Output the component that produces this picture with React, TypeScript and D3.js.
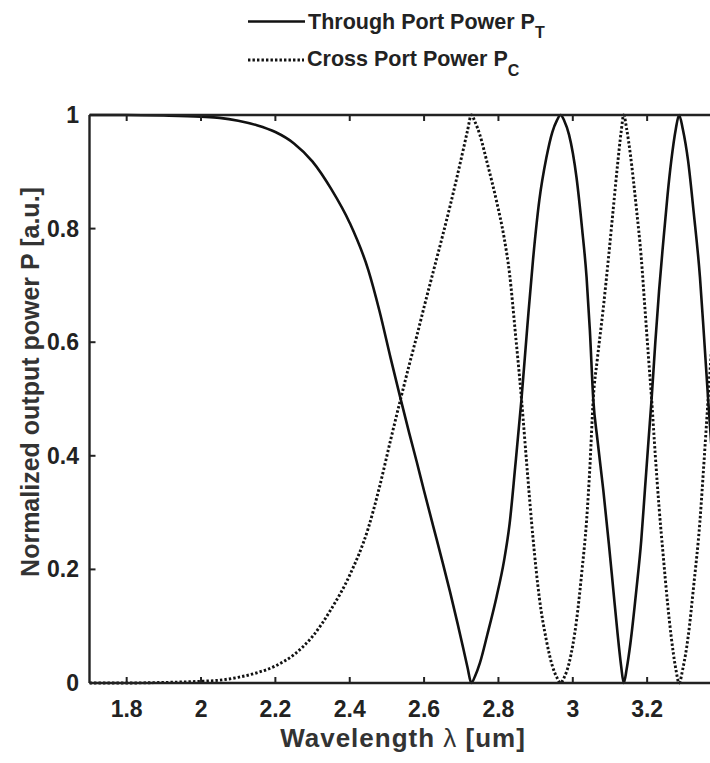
import React from "react";
import * as d3 from "d3";

const wavelength = [1.70, 1.80, 1.90, 2.00, 2.05, 2.10, 2.15, 2.20, 2.25, 2.30, 2.35, 2.40, 2.45, 2.48, 2.51, 2.535,
  2.56, 2.58, 2.60, 2.625, 2.65, 2.67, 2.69, 2.705, 2.717, 2.727, 2.737, 2.75, 2.77, 2.795, 2.815, 2.83, 2.845, 2.862,
  2.878, 2.893, 2.91, 2.929, 2.945, 2.957, 2.967, 2.977, 2.99, 3.01, 3.025, 3.037, 3.046, 3.055,
  3.066, 3.082, 3.097, 3.109, 3.12, 3.13, 3.137, 3.145, 3.155, 3.171, 3.184, 3.194, 3.204, 3.212,
  3.222, 3.232, 3.243, 3.255, 3.265, 3.277, 3.286, 3.296, 3.31, 3.325, 3.342, 3.353, 3.364, 3.38, 3.40];

const throughPort = [1.000, 1.000, 0.999, 0.997, 0.995, 0.990, 0.982, 0.970, 0.950, 0.918, 0.870, 0.810, 0.727, 0.655, 0.572, 0.505,
  0.440, 0.390, 0.338, 0.275, 0.212, 0.160, 0.105, 0.062, 0.027, 0.000, 0.012, 0.035, 0.085, 0.152, 0.215, 0.280, 0.380, 0.500,
  0.630, 0.745, 0.850, 0.925, 0.970, 0.990, 1.000, 0.990, 0.965, 0.890, 0.800, 0.715, 0.620, 0.500,
  0.430, 0.340, 0.245, 0.164, 0.090, 0.030, 0.000, 0.025, 0.070, 0.164, 0.250, 0.340, 0.430, 0.500,
  0.600, 0.690, 0.774, 0.860, 0.920, 0.975, 1.000, 0.975, 0.920, 0.830, 0.715, 0.610, 0.500, 0.350, 0.170];

const crossPort = [0.000, 0.000, 0.001, 0.003, 0.005, 0.010, 0.018, 0.030, 0.050, 0.082, 0.130, 0.190, 0.273, 0.345, 0.428, 0.495,
  0.560, 0.610, 0.662, 0.725, 0.788, 0.840, 0.895, 0.938, 0.973, 1.000, 0.988, 0.965, 0.915, 0.848, 0.785, 0.720, 0.620, 0.500,
  0.370, 0.255, 0.150, 0.075, 0.030, 0.010, 0.000, 0.010, 0.035, 0.110, 0.200, 0.285, 0.380, 0.500,
  0.570, 0.660, 0.755, 0.836, 0.910, 0.970, 1.000, 0.975, 0.930, 0.836, 0.750, 0.660, 0.570, 0.500,
  0.400, 0.310, 0.226, 0.140, 0.080, 0.025, 0.000, 0.025, 0.080, 0.170, 0.285, 0.390, 0.500, 0.650, 0.830];

const xTicks = [1.8, 2.0, 2.2, 2.4, 2.6, 2.8, 3.0, 3.2];
const yTicks = [0, 0.2, 0.4, 0.6, 0.8, 1];

const FONT = "'Liberation Sans', Arial, Helvetica, sans-serif";

export default function App() {
  const W = 710, H = 763;
  const left = 89.5, right = 721.5, top = 115, bottom = 683;
  const x = d3.scaleLinear().domain([1.7, 3.4]).range([left, right]);
  const y = d3.scaleLinear().domain([0, 1]).range([bottom, top]);

  const line = d3.line<number>()
    .x((_, i) => x(wavelength[i]))
    .y((d) => y(d))
    .curve(d3.curveMonotoneX);

  const tickLen = 6;

  return (
    <svg width={W} height={H} style={{ position: "absolute", left: 0, top: 0, background: "#fff" }}
      fontFamily={FONT}>
      <rect x={0} y={0} width={W} height={H} fill="#fff" />
      <defs>
        <clipPath id="plotclip">
          <rect x={left} y={top - 2} width={right - left} height={bottom - top + 4} />
        </clipPath>
      </defs>

      {/* curves */}
      <g clipPath="url(#plotclip)">
        <path d={line(crossPort) || ""} fill="none" stroke="#111" strokeWidth={2.9}
          strokeDasharray="2.4 2.1" />
        <path d={line(throughPort) || ""} fill="none" stroke="#111" strokeWidth={2.6} />
      </g>

      {/* axes box */}
      <g stroke="#222" strokeWidth={2.4} fill="none">
        <line x1={left} y1={top} x2={right} y2={top} />
        <line x1={left} y1={bottom} x2={right} y2={bottom} />
        <line x1={left} y1={top} x2={left} y2={bottom} />
        <line x1={right} y1={top} x2={right} y2={bottom} />
      </g>

      {/* x ticks */}
      {xTicks.map((t) => (
        <g key={"x" + t}>
          <line x1={x(t)} x2={x(t)} y1={bottom} y2={bottom - tickLen} stroke="#222" strokeWidth={2} />
          <line x1={x(t)} x2={x(t)} y1={top} y2={top + tickLen} stroke="#222" strokeWidth={2} />
          <text x={x(t)} y={bottom + 34} textAnchor="middle" fontSize={23} fontWeight="bold" fill="#222">
            {d3.format("~g")(t)}
          </text>
        </g>
      ))}

      {/* y ticks */}
      {yTicks.map((t) => (
        <g key={"y" + t}>
          <line x1={left} x2={left + tickLen} y1={y(t)} y2={y(t)} stroke="#222" strokeWidth={2} />
          <line x1={right} x2={right - tickLen} y1={y(t)} y2={y(t)} stroke="#222" strokeWidth={2} />
          <text x={79} y={y(t) + 8} textAnchor="end" fontSize={23} fontWeight="bold" fill="#222">
            {d3.format("~g")(t)}
          </text>
        </g>
      ))}

      {/* axis titles */}
      <text x={403} y={747} textAnchor="middle" fontSize={26} fontWeight="bold" fill="#333"
        letterSpacing={1}>
        Wavelength <tspan fontWeight="normal">λ</tspan> [um]
      </text>
      <text transform={`translate(39, 382) rotate(-90)`} textAnchor="middle"
        fontSize={25} fontWeight="bold" fill="#333">
        Normalized output power P [a.u.]
      </text>

      {/* legend */}
      <line x1={248} x2={305} y1={21.5} y2={21.5} stroke="#111" strokeWidth={2.6} />
      <text x={308} y={28.5} fontSize={21.5} fontWeight="bold" fill="#222">
        Through Port Power P<tspan fontSize={16} dy={9}>T</tspan>
      </text>
      <line x1={248} x2={304} y1={60} y2={60} stroke="#111" strokeWidth={2.9} strokeDasharray="2.4 2.1" />
      <text x={307} y={65.5} fontSize={21.5} fontWeight="bold" fill="#222">
        Cross Port Power P<tspan fontSize={16} dy={10}>C</tspan>
      </text>
    </svg>
  );
}
